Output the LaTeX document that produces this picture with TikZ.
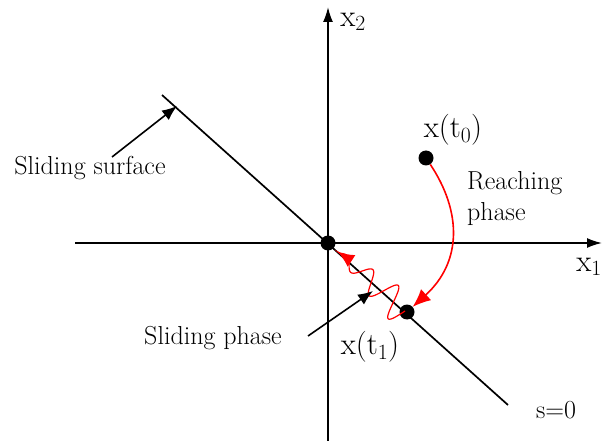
\RequirePackage{fix-cm}
\documentclass[tikz,border=0pt]{standalone}
\usepackage{amsmath,amssymb}
\usepackage{xcolor}
\usepackage{tikz}
\usetikzlibrary{arrows.meta,positioning,calc}
\tikzset{
  axis/.style={line width=1.7pt,black,-{Latex[length=15pt,width=10pt]}},
  surf/.style={line width=1.7pt,black},
  pt/.style={circle,fill=black,minimum size=15pt,inner sep=0pt},
  pointer/.style={line width=1.6pt,black,-{Latex[length=15pt,width=12pt]}},
  reach/.style={line width=1.6pt,red,-{Latex[length=18pt,width=15pt]}},
  slide/.style={line width=1.2pt,red,-{Latex[length=16pt,width=14pt]}},
  lab/.style={font=\fontsize{26}{31}\selectfont,inner sep=1pt},
  mlab/.style={font=\fontsize{31}{37}\selectfont,inner sep=1pt}
}

\begin{document}
\begin{tikzpicture}[x=1pt,y=-1pt]
  \useasboundingbox (0,0) rectangle (603,441);
  % axes and switching line
  \coordinate (xl) at (75,243);
  \coordinate (xr) at (602,243);
  \coordinate (yb) at (328,441);
  \coordinate (yt) at (328,7);
  \draw[axis] (xl)--(xr);
  \draw[axis] (yb)--(yt);
  \node[mlab] (x1) at (589,267) {$\mathrm{x}_1$};
  \node[mlab] (x2) at (353,22) {$\mathrm{x}_2$};
  \coordinate (s1) at (162,95);
  \coordinate (s2) at (508,405);
  \draw[surf] (s1)--(s2);
  \node[lab] (s0) at (556,410) {s=0};
  % states
  \node[pt] (O) at (328,243) {};
  \node[pt] (P0) at (426,158) {};
  \node[pt] (P1) at (407,312) {};
  \node[mlab] (l0) at (453,130) {$\mathrm{x}(\mathrm{t}_0)$};
  \node[mlab] (l1) at (370,347) {$\mathrm{x}(\mathrm{t}_1)$};
  % reaching phase
  \draw[reach] (P0) .. controls (462,212) and (462,262) .. (P1);
  \node[lab,align=left,anchor=west] (rp) at (466,199) {Reaching\\phase};
  % sliding phase
  \draw[slide] plot[domain=0:1,samples=150,smooth]
    ({405-67*\x - 0.667*18*(1-\x)^0.7*sin(3*360*\x)},
     {311-59*\x + 0.745*18*(1-\x)^0.7*sin(3*360*\x)});
  % annotations
  \node[lab] (ss) at (90,168) {Sliding surface};
  \coordinate (a1) at (112,157);
  \coordinate (b1) at (177,106);
  \draw[pointer] (a1)--(b1);
  \node[lab] (sp) at (213,338) {Sliding phase};
  \coordinate (a2) at (308,336);
  \coordinate (b2) at (373,291);
  \draw[pointer] (a2)--(b2);
\end{tikzpicture}
\end{document}
